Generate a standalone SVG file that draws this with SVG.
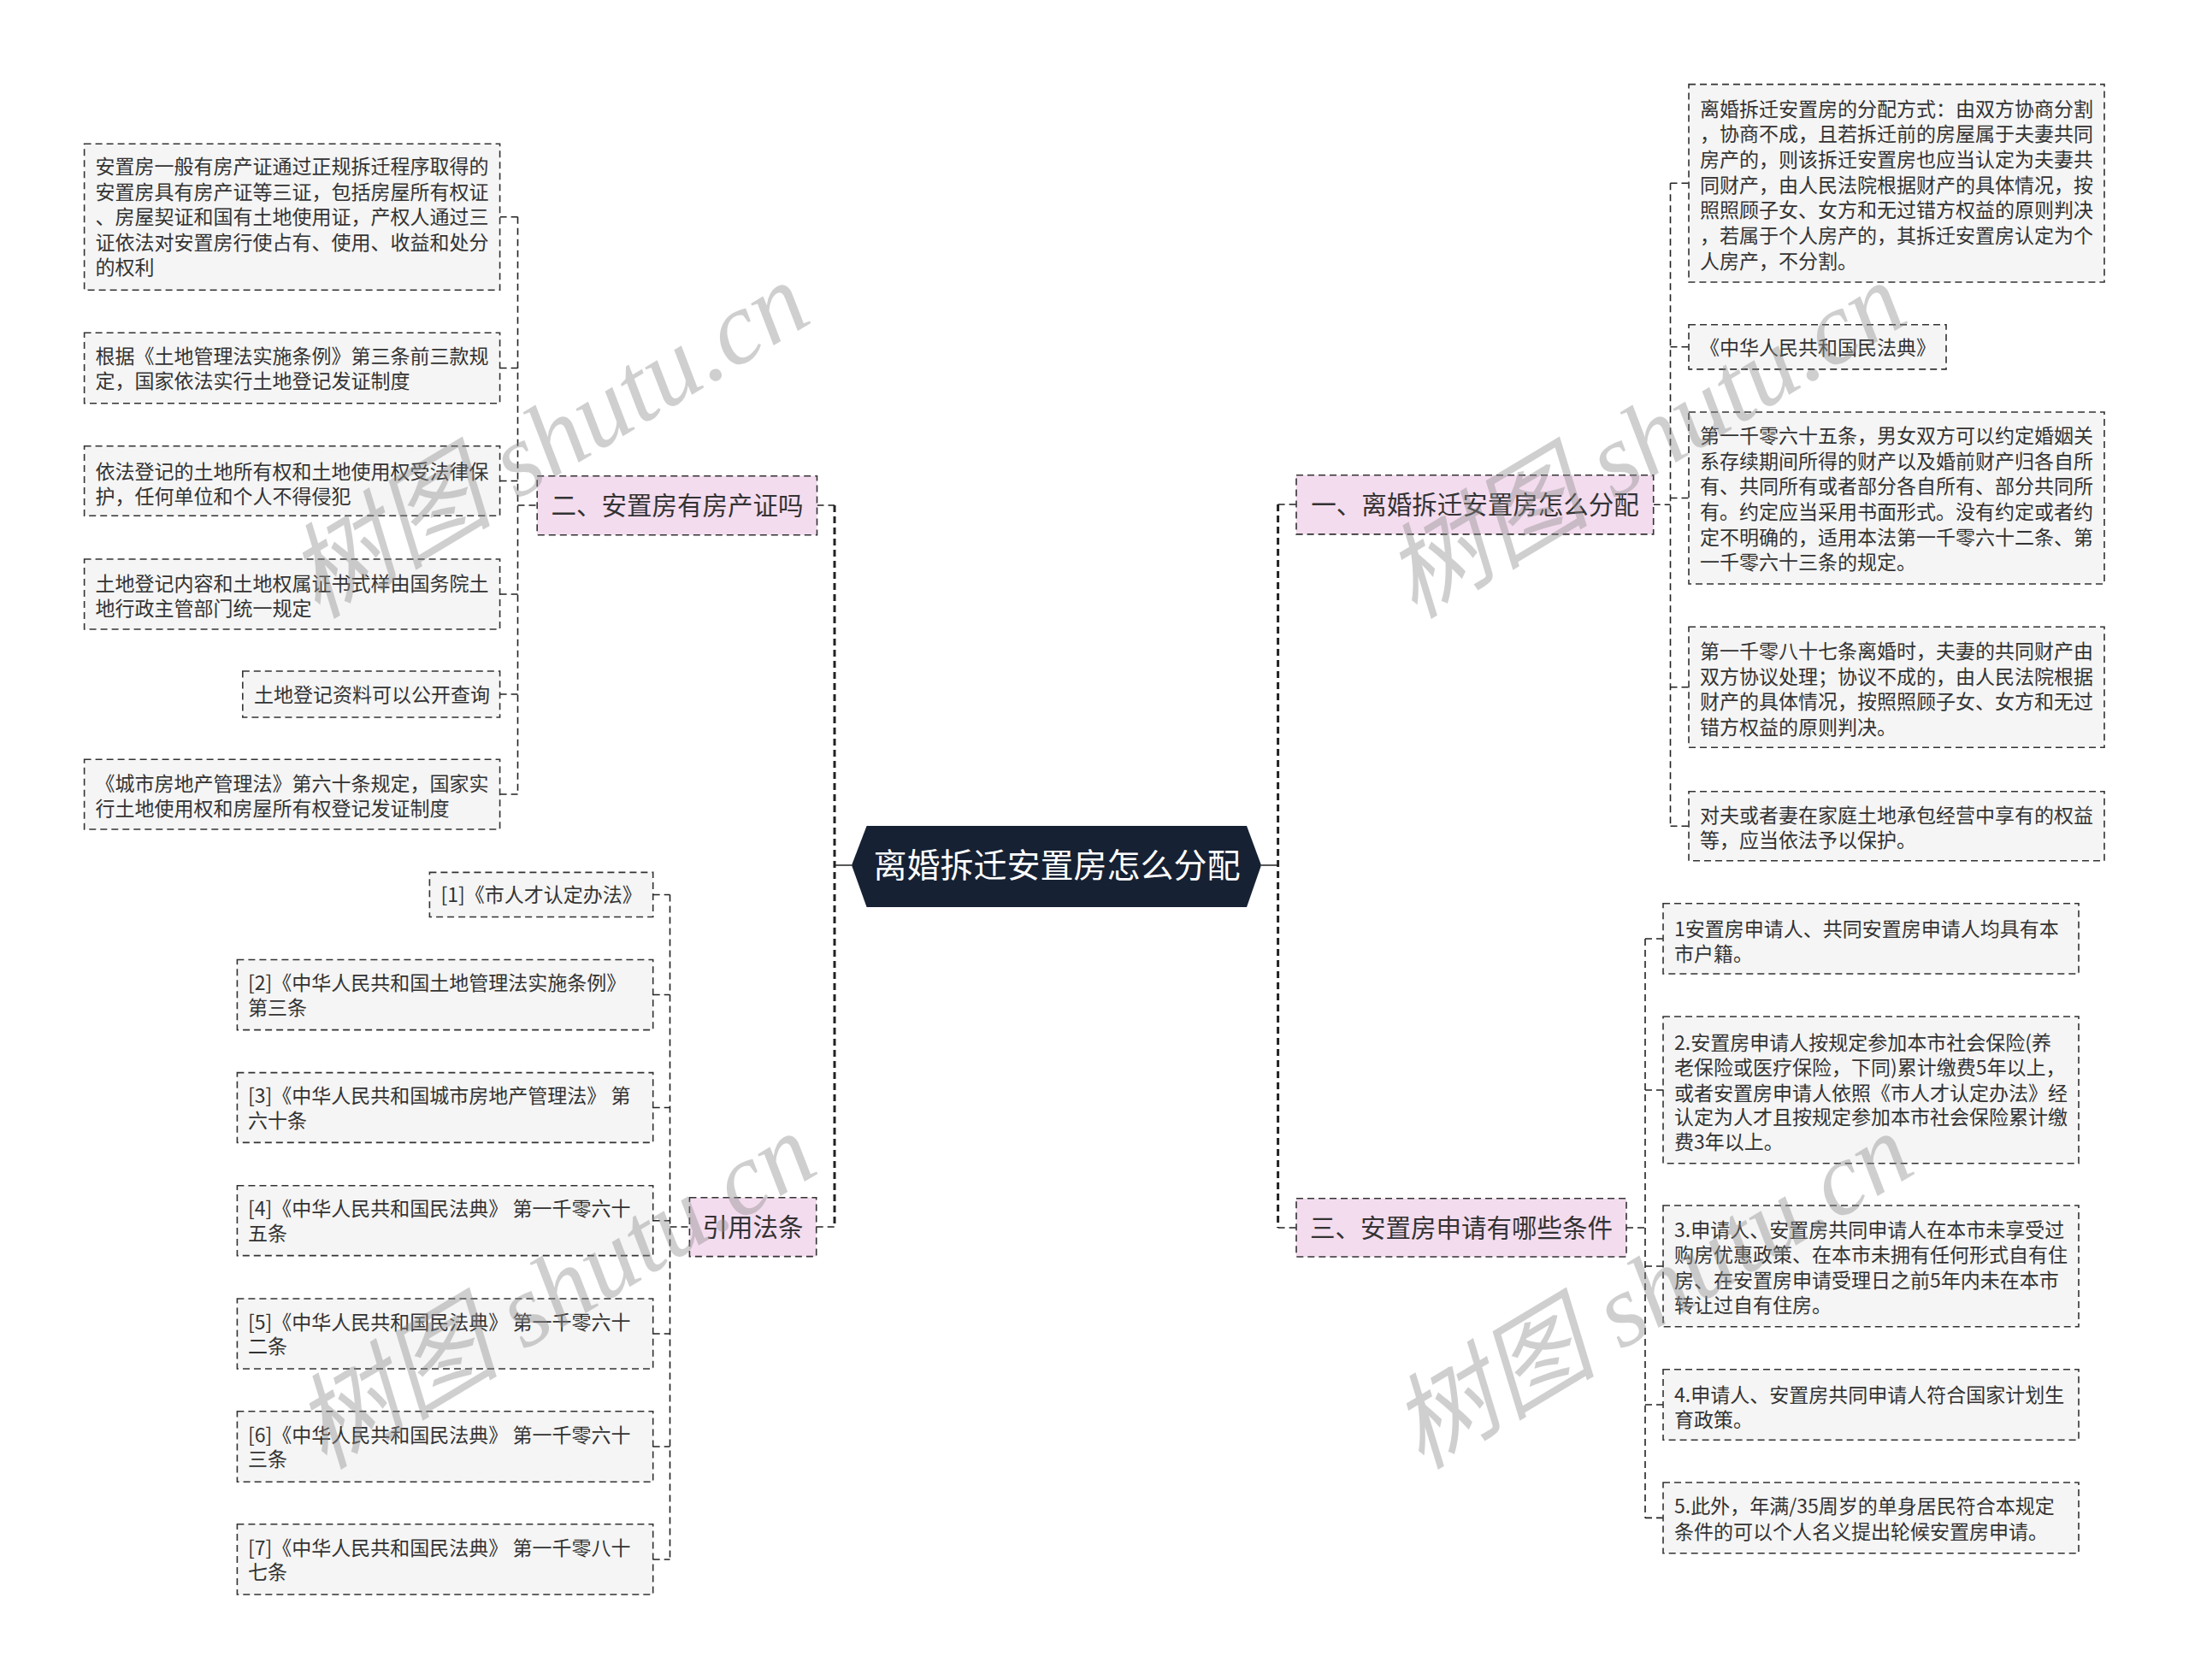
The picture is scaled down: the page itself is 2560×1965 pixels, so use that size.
<svg xmlns="http://www.w3.org/2000/svg" width="2560" height="1965" viewBox="0 0 2560 1965">
<style>
.leaf{fill:#f5f5f5;stroke:#333;stroke-width:1.6;stroke-dasharray:8 5}
.branch{fill:#f4dcef;stroke:#333;stroke-width:1.6;stroke-dasharray:8 5}
.lt{font-family:"Noto Sans CJK SC","Noto Sans",sans-serif;font-size:23px;fill:#333}
.bt{font-family:"Noto Sans CJK SC","Noto Sans",sans-serif;font-size:29.5px;fill:#333;text-anchor:middle}
.ct{font-family:"Noto Sans CJK SC","Noto Sans",sans-serif;font-size:39px;fill:#fff;text-anchor:middle}
.c{fill:none;stroke:#222;stroke-width:1.6;stroke-dasharray:8 5}
.cm{fill:none;stroke:#222;stroke-width:3;stroke-dasharray:8 5}
.cs{fill:none;stroke:#222;stroke-width:1.6}
.wm{font-family:"Liberation Serif","Noto Sans CJK SC",serif;font-style:italic;font-size:121px;fill:#8c8c8c;fill-opacity:0.42;text-anchor:middle}
</style>
<rect width="2560" height="1965" fill="#fff"/>
<g id="connectors">
<path class="cm" d="M976 591V1435M1494.6 590V1436"/>
<path class="cs" d="M976 1012H996M1475 1012H1494.6"/>
<path class="c" d="M955.5 591H976M954.7 1435H976M1494.6 590H1516M1494.6 1436H1516"/>
<path class="c" d="M605.5 253.8V929M584.6 253.8H605.5M584.6 430.5H605.5M584.6 562.5H605.5M584.6 695H605.5M584.6 812H605.5M584.6 929H605.5M605.5 591H628.2"/>
<path class="c" d="M783.5 1046.5V1824M763.7 1046.5H783.5M763.7 1163.5H783.5M763.7 1295.5H783.5M763.7 1427.7H783.5M763.7 1560H783.5M763.7 1692H783.5M763.7 1824H783.5M783.5 1435H806.4"/>
<path class="c" d="M1953.5 214.3V966.2M1953.5 214.3H1975M1953.5 405.8H1975M1953.5 582.5H1975M1953.5 803.8H1975M1953.5 966.2H1975M1933.7 590.3H1953.5"/>
<path class="c" d="M1924 1098V1775.4M1924 1098H1945M1924 1275H1945M1924 1481H1945M1924 1643H1945M1924 1775.4H1945M1902 1436H1924"/>
</g>
<g id="root">
<polygon points="996,1012 1013.6,966 1458,966 1475,1012 1458,1061 1013.6,1061" fill="#162133"/>
<text class="ct" x="1236" y="1026">离婚拆迁安置房怎么分配</text>
</g>
<g id="b1">
<rect class="branch" x="1516" y="555.7" width="417.7" height="69.2"/>
<text class="bt" x="1724.9" y="601">一、离婚拆迁安置房怎么分配</text>
</g>
<g id="b2">
<rect class="branch" x="628.2" y="556.7" width="327.3" height="69"/>
<text class="bt" x="791.9" y="602">二、安置房有房产证吗</text>
</g>
<g id="b3">
<rect class="branch" x="1516" y="1401.7" width="386" height="68.3"/>
<text class="bt" x="1709" y="1447">三、安置房申请有哪些条件</text>
</g>
<g id="b4">
<rect class="branch" x="806.4" y="1400.7" width="148.3" height="68.9"/>
<text class="bt" x="880.5" y="1446">引用法条</text>
</g>
<g id="l1">
<rect class="leaf" x="98.6" y="168.3" width="486" height="171"/>
<text class="lt"><tspan x="111.5" y="203">安置房一般有房产证通过正规拆迁程序取得的</tspan><tspan x="111.5" y="232.5">安置房具有房产证等三证，包括房屋所有权证</tspan><tspan x="111.5" y="262">、房屋契证和国有土地使用证，产权人通过三</tspan><tspan x="111.5" y="291.5">证依法对安置房行使占有、使用、收益和处分</tspan><tspan x="111.5" y="321">的权利</tspan></text>
</g>
<g id="l2">
<rect class="leaf" x="98.6" y="389.3" width="486" height="82.4"/>
<text class="lt"><tspan x="111.5" y="425">根据《土地管理法实施条例》第三条前三款规</tspan><tspan x="111.5" y="453.5">定，国家依法实行土地登记发证制度</tspan></text>
</g>
<g id="l3">
<rect class="leaf" x="98.6" y="521.7" width="486" height="81.6"/>
<text class="lt"><tspan x="111.5" y="560">依法登记的土地所有权和土地使用权受法律保</tspan><tspan x="111.5" y="588.5">护，任何单位和个人不得侵犯</tspan></text>
</g>
<g id="l4">
<rect class="leaf" x="98.6" y="654" width="486" height="82"/>
<text class="lt"><tspan x="111.5" y="691">土地登记内容和土地权属证书式样由国务院土</tspan><tspan x="111.5" y="719.5">地行政主管部门统一规定</tspan></text>
</g>
<g id="l5">
<rect class="leaf" x="283.8" y="785" width="300.8" height="54"/>
<text class="lt" x="297" y="821">土地登记资料可以公开查询</text>
</g>
<g id="l6">
<rect class="leaf" x="98.6" y="888.3" width="486" height="81.7"/>
<text class="lt"><tspan x="111.5" y="925">《城市房地产管理法》第六十条规定，国家实</tspan><tspan x="111.5" y="953.5">行土地使用权和房屋所有权登记发证制度</tspan></text>
</g>
<g id="c1">
<rect class="leaf" x="502.4" y="1020.4" width="261.3" height="52.1"/>
<text class="lt" x="515.5" y="1054.5">[1]《市人才认定办法》</text>
</g>
<g id="c2">
<rect class="leaf" x="277.4" y="1122.5" width="486.3" height="82.1"/>
<text class="lt"><tspan x="290" y="1158">[2]《中华人民共和国土地管理法实施条例》</tspan><tspan x="290" y="1186.5">第三条</tspan></text>
</g>
<g id="c3">
<rect class="leaf" x="277.4" y="1254.6" width="486.3" height="81.8"/>
<text class="lt"><tspan x="290" y="1290">[3]《中华人民共和国城市房地产管理法》 第</tspan><tspan x="290" y="1318.5">六十条</tspan></text>
</g>
<g id="c4">
<rect class="leaf" x="277.4" y="1386.8" width="486.3" height="81.8"/>
<text class="lt"><tspan x="290" y="1422">[4]《中华人民共和国民法典》 第一千零六十</tspan><tspan x="290" y="1450.5">五条</tspan></text>
</g>
<g id="c5">
<rect class="leaf" x="277.4" y="1519" width="486.3" height="82"/>
<text class="lt"><tspan x="290" y="1554.5">[5]《中华人民共和国民法典》 第一千零六十</tspan><tspan x="290" y="1583">二条</tspan></text>
</g>
<g id="c6">
<rect class="leaf" x="277.4" y="1650.7" width="486.3" height="82.6"/>
<text class="lt"><tspan x="290" y="1686.5">[6]《中华人民共和国民法典》 第一千零六十</tspan><tspan x="290" y="1715">三条</tspan></text>
</g>
<g id="c7">
<rect class="leaf" x="277.4" y="1782.7" width="486.3" height="82.3"/>
<text class="lt"><tspan x="290" y="1818.5">[7]《中华人民共和国民法典》 第一千零八十</tspan><tspan x="290" y="1847">七条</tspan></text>
</g>
<g id="r1">
<rect class="leaf" x="1975" y="98.6" width="486" height="231.4"/>
<text class="lt"><tspan x="1988" y="135.5">离婚拆迁安置房的分配方式：由双方协商分割</tspan><tspan x="1988" y="165.2">，协商不成，且若拆迁前的房屋属于夫妻共同</tspan><tspan x="1988" y="194.8">房产的，则该拆迁安置房也应当认定为夫妻共</tspan><tspan x="1988" y="224.5">同财产，由人民法院根据财产的具体情况，按</tspan><tspan x="1988" y="254.2">照照顾子女、女方和无过错方权益的原则判决</tspan><tspan x="1988" y="283.8">，若属于个人房产的，其拆迁安置房认定为个</tspan><tspan x="1988" y="313.5">人房产，不分割。</tspan></text>
</g>
<g id="r2">
<rect class="leaf" x="1975" y="379.7" width="301" height="52.2"/>
<text class="lt" x="1988" y="414.5">《中华人民共和国民法典》</text>
</g>
<g id="r3">
<rect class="leaf" x="1975" y="482" width="486" height="201"/>
<text class="lt"><tspan x="1988" y="518">第一千零六十五条，男女双方可以约定婚姻关</tspan><tspan x="1988" y="547.7">系存续期间所得的财产以及婚前财产归各自所</tspan><tspan x="1988" y="577.3">有、共同所有或者部分各自所有、部分共同所</tspan><tspan x="1988" y="607">有。约定应当采用书面形式。没有约定或者约</tspan><tspan x="1988" y="636.7">定不明确的，适用本法第一千零六十二条、第</tspan><tspan x="1988" y="666.3">一千零六十三条的规定。</tspan></text>
</g>
<g id="r4">
<rect class="leaf" x="1975" y="733.3" width="486" height="141"/>
<text class="lt"><tspan x="1988" y="770">第一千零八十七条离婚时，夫妻的共同财产由</tspan><tspan x="1988" y="799.7">双方协议处理；协议不成的，由人民法院根据</tspan><tspan x="1988" y="829.3">财产的具体情况，按照照顾子女、女方和无过</tspan><tspan x="1988" y="859">错方权益的原则判决。</tspan></text>
</g>
<g id="r5">
<rect class="leaf" x="1975" y="925.7" width="486" height="81"/>
<text class="lt"><tspan x="1988" y="961.5">对夫或者妻在家庭土地承包经营中享有的权益</tspan><tspan x="1988" y="991">等，应当依法予以保护。</tspan></text>
</g>
<g id="s1">
<rect class="leaf" x="1945" y="1056.7" width="486" height="82.3"/>
<text class="lt"><tspan x="1958" y="1095">1安置房申请人、共同安置房申请人均具有本</tspan><tspan x="1958" y="1123.5">市户籍。</tspan></text>
</g>
<g id="s2">
<rect class="leaf" x="1945" y="1189" width="486" height="171.7"/>
<text class="lt"><tspan x="1958" y="1228">2.安置房申请人按规定参加本市社会保险(养</tspan><tspan x="1958" y="1257">老保险或医疗保险，下同)累计缴费5年以上，</tspan><tspan x="1958" y="1286.5">或者安置房申请人依照《市人才认定办法》经</tspan><tspan x="1958" y="1315">认定为人才且按规定参加本市社会保险累计缴</tspan><tspan x="1958" y="1343.5">费3年以上。</tspan></text>
</g>
<g id="s3">
<rect class="leaf" x="1945" y="1410" width="486" height="141.7"/>
<text class="lt"><tspan x="1958" y="1446.5">3.申请人、安置房共同申请人在本市未享受过</tspan><tspan x="1958" y="1476">购房优惠政策、在本市未拥有任何形式自有住</tspan><tspan x="1958" y="1505.7">房、在安置房申请受理日之前5年内未在本市</tspan><tspan x="1958" y="1535.4">转让过自有住房。</tspan></text>
</g>
<g id="s4">
<rect class="leaf" x="1945" y="1601.7" width="486" height="82.6"/>
<text class="lt"><tspan x="1958" y="1640">4.申请人、安置房共同申请人符合国家计划生</tspan><tspan x="1958" y="1668.5">育政策。</tspan></text>
</g>
<g id="s5">
<rect class="leaf" x="1945" y="1734" width="486" height="82.7"/>
<text class="lt"><tspan x="1958" y="1770">5.此外，年满/35周岁的单身居民符合本规定</tspan><tspan x="1958" y="1800">条件的可以个人名义提出轮候安置房申请。</tspan></text>
</g>
<g id="watermarks">
<text class="wm" transform="translate(662,550) rotate(-31)">树图 shutu.cn</text>
<text class="wm" transform="translate(1945,550) rotate(-31)">树图 shutu.cn</text>
<text class="wm" transform="translate(670,1545) rotate(-31)">树图 shutu.cn</text>
<text class="wm" transform="translate(1953,1545) rotate(-31)">树图 shutu.cn</text>
</g>
</svg>
